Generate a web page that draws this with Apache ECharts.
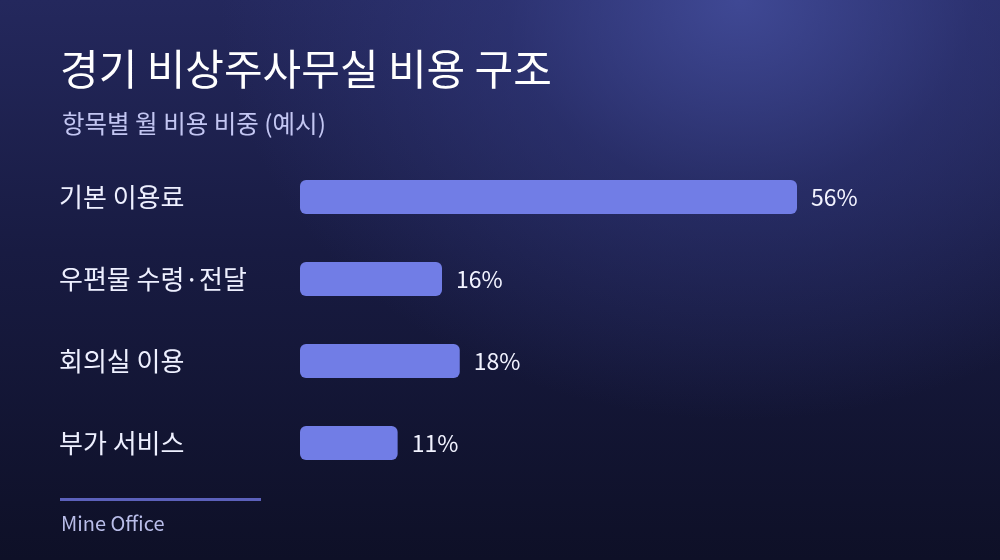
<!DOCTYPE html>
<html><head><meta charset="utf-8">
<script src="https://cdn.jsdelivr.net/npm/echarts@6/dist/echarts.min.js"></script>
<style>
html,body{margin:0;padding:0;background:#0f1229}
#c{width:1000px;height:560px;
background:
 radial-gradient(ellipse 520px 420px at 74% 0%, rgba(68,78,158,0.85) 0%, rgba(55,63,138,0.45) 45%, rgba(40,46,110,0) 100%),
 linear-gradient(180deg, #24285d 0%, #181b42 45%, #0e1027 100%);}
</style>
</head><body><div id="c"></div>
<script>
const categories = ['기본 이용료', '우편물 수령·전달', '회의실 이용', '부가 서비스'];
const values = [56, 16, 18, 11];
const titleText = '경기 비상주사무실 비용 구조';
const subtitleText = '항목별 월 비용 비중 (예시)';
const sourceText = 'Mine Office';

const font = '"Noto Sans CJK KR","Noto Sans",sans-serif';
const chart = echarts.init(document.getElementById('c'));
chart.setOption({
  backgroundColor: 'transparent',
  title: [
    {text: titleText, left: 55, top: 43, textStyle: {color: '#ffffff', fontSize: 42, fontWeight: 400, fontFamily: font}},
    {text: subtitleText, left: 57, top: 106, textStyle: {color: '#c3c6f2', fontSize: 24.5, fontWeight: 400, fontFamily: font}},
    {text: sourceText, left: 56, top: 508, textStyle: {color: '#b9bde9', fontSize: 20, fontWeight: 400, fontFamily: font}}
  ],
  graphic: [
    {type: 'rect', shape: {x: 60, y: 498, width: 201, height: 3}, style: {fill: '#5c61bb'}}
  ],
  grid: {left: 300, right: 203, top: 156, height: 328},
  xAxis: {type: 'value', min: 0, max: 56, show: false},
  yAxis: {
    type: 'category', data: categories, inverse: true,
    axisLine: {show: false}, axisTick: {show: false},
    axisLabel: {align: 'left', margin: 241, color: '#eef0ff', fontSize: 26, fontFamily: font}
  },
  series: [{
    type: 'bar', data: values, barWidth: 34,
    itemStyle: {color: '#717de6', borderRadius: 6},
    label: {show: true, position: 'right', distance: 14, formatter: '{c}%', color: '#f2f3ff', fontSize: 23, fontFamily: font},
    animation: false
  }],
  animation: false
});
</script></body></html>
